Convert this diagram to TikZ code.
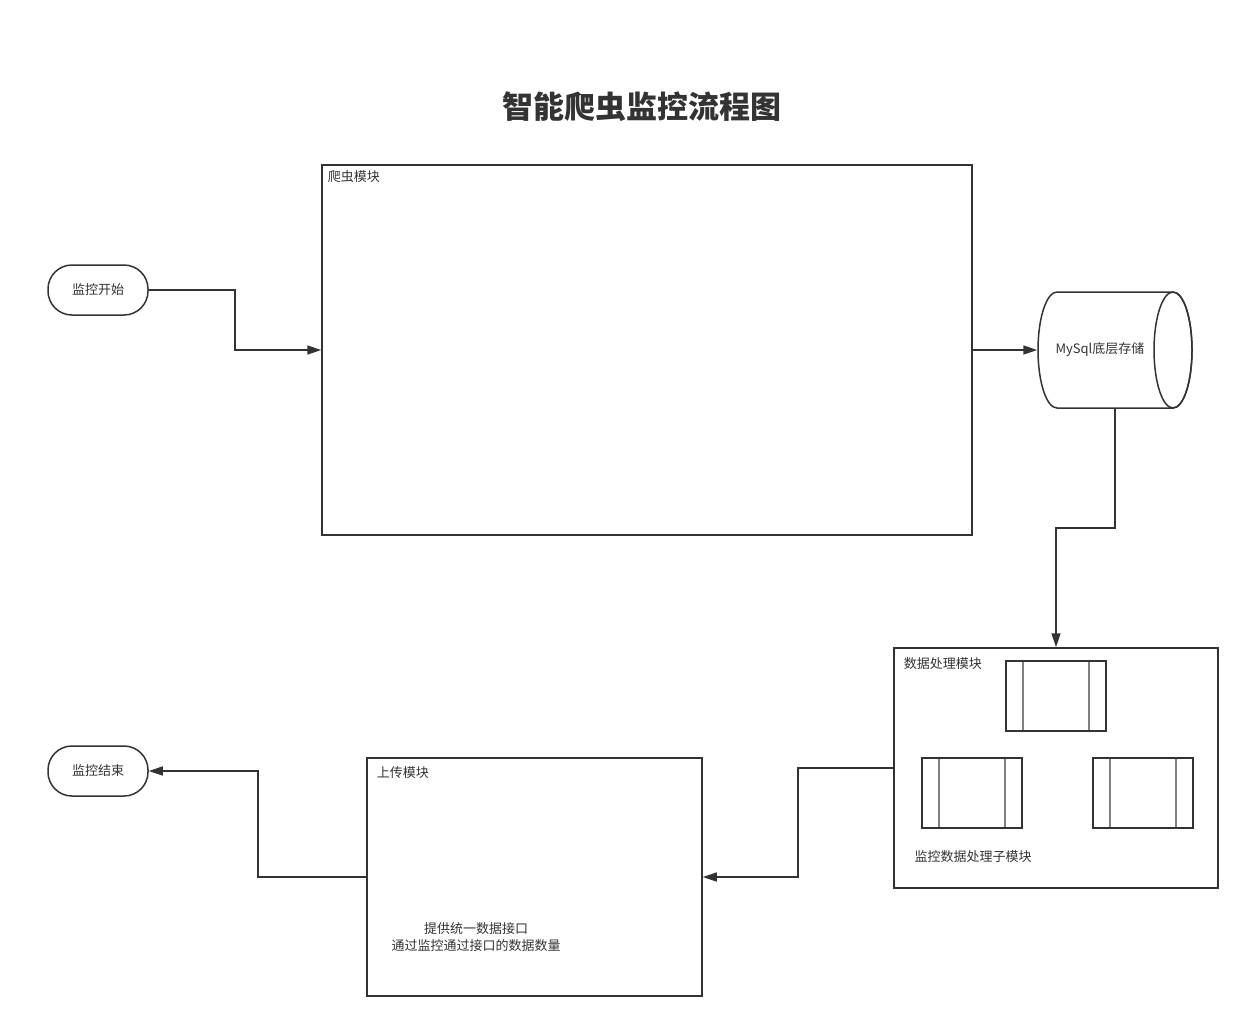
\documentclass[tikz,border=0pt]{standalone}
\usepackage{fontspec}
\setmainfont{Noto Sans CJK SC}
\usetikzlibrary{arrows.meta,calc}
\definecolor{ink}{HTML}{333333}
\begin{document}
\begin{tikzpicture}[x=1pt,y=-1pt,
  line width=1.5pt, draw=ink, text=ink,
  every node/.style={font=\fontsize{13}{16}\selectfont, text=ink},
  box/.style={draw=ink, line width=1.5pt, rectangle, inner sep=0, minimum width=#1},
  term/.style={draw=ink, line width=1.5pt, rounded corners=24pt, minimum width=100, minimum height=50, inner sep=0},
  arr/.style={draw=ink, line width=1.5pt, -{Triangle[length=14pt,width=9pt]}},
  subproc/.style={draw=ink, line width=1.8pt, minimum width=100, minimum height=70, inner sep=0,
    path picture={
      \draw[line width=1.8pt, draw=gray] ([xshift=17pt]path picture bounding box.north west) -- ([xshift=17pt]path picture bounding box.south west);
      \draw[line width=1.8pt, draw=gray] ([xshift=-17pt]path picture bounding box.north east) -- ([xshift=-17pt]path picture bounding box.south east);
    }},
  lbl/.style={anchor=west, inner sep=0}
]
\useasboundingbox (0,0) rectangle (1250,1029);

% title
\node[font=\fontsize{31}{36}\selectfont\bfseries] (title) at (642,107) {智能爬虫监控流程图};

% crawler module
\node[box=650, minimum height=370] (crawler) at (647,350) {};
\node[lbl] (crawlerlbl) at (327,177) {爬虫模块};

% start / end
\node[term] (start) at (98,290) {监控开始};
\node[term] (end) at (98,771) {监控结束};

% mysql cylinder (horizontal, open end on the right)
\node[minimum width=154, minimum height=116, inner sep=0] (cyl) at (1115,350) {};
\draw[line width=1.5pt, draw=ink] (1057,292) -- (1173,292)
  arc[start angle=-90, end angle=90, x radius=19, y radius=58]
  -- (1057,408)
  arc[start angle=90, end angle=270, x radius=19, y radius=58] -- cycle;
\draw[line width=1.5pt, draw=ink] (1173,350) ellipse[x radius=19, y radius=58];
\node (cyllbl) at (1100,350) {MySql底层存储};

% data processing
\node[box=324, minimum height=240] (dp) at (1056,768) {};
\node[lbl] (dplbl) at (903,664) {数据处理模块};
\node[subproc] (s1) at (1056,696) {};
\node[subproc] (s2) at (972,793) {};
\node[subproc] (s3) at (1143,793) {};
\node (dpsub) at (973,857) {监控数据处理子模块};

% upload module
\node[box=335, minimum height=238] (up) at (534.5,877) {};
\node[lbl] (uplbl) at (376,773) {上传模块};
\node[align=center, font=\fontsize{13}{17}\selectfont] (uptxt) at (476,937) {提供统一数据接口\\通过监控通过接口的数据数量};

% connectors
\coordinate (j1) at (235,0);
\draw[arr] (start.east) -- (start.east -| j1) -- (j1 |- crawler.west) -- (crawler.west);
\draw[arr] (crawler.east) -- (cyl.west);
\coordinate (j2) at (0,528);
\draw[arr] (cyl.south) -- (cyl.south |- j2) -| (dp.north);
\coordinate (j3) at (798,0);
\draw[arr] (dp.west) -- (dp.west -| j3) -- (j3 |- up.east) -- (up.east);
\coordinate (j4) at (258,0);
\draw[arr] (up.west) -- (up.west -| j4) -- (j4 |- end.east) -- (end.east);
\end{tikzpicture}
\end{document}
